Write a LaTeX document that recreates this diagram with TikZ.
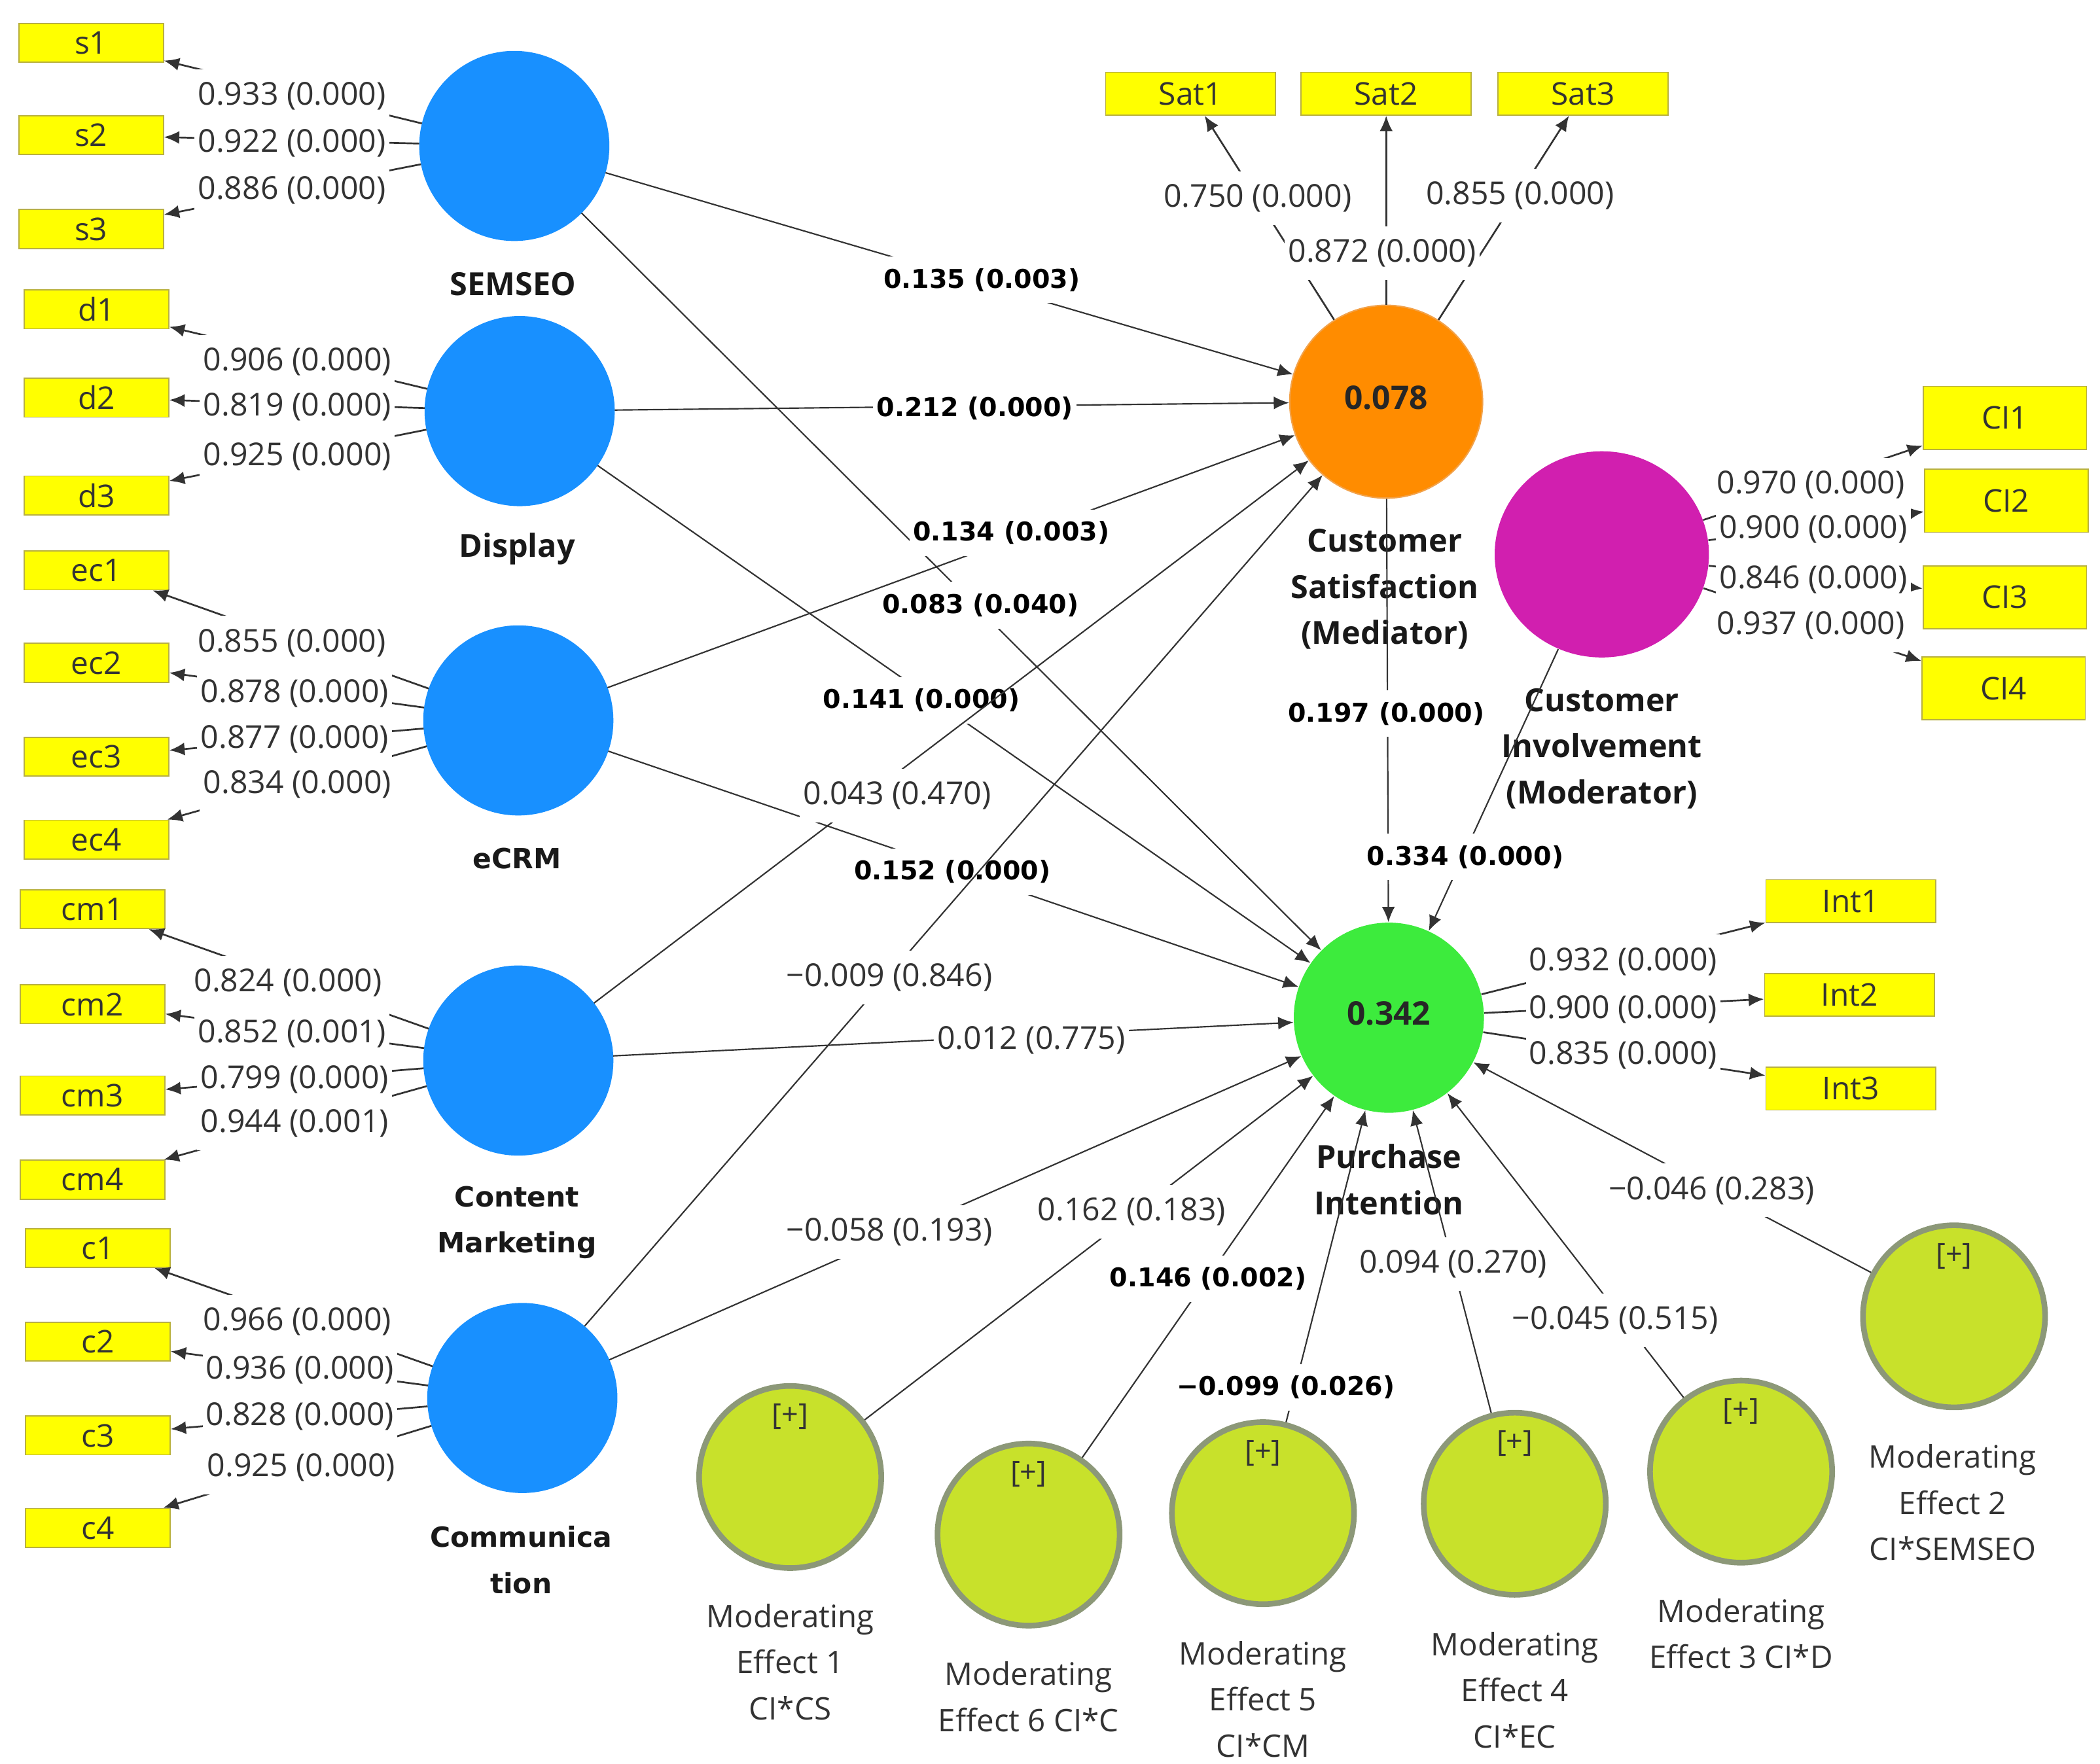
\documentclass[tikz,border=0pt]{standalone}
\usepackage{fontspec}
\setmainfont{Open Sans}
\newfontfamily\dvs{DejaVu Sans}
\usetikzlibrary{arrows.meta,shapes.geometric}
\definecolor{latblue}{HTML}{1890FF}
\definecolor{csor}{HTML}{FF8C00}
\definecolor{csline}{HTML}{F2A24A}
\definecolor{cimag}{HTML}{D11FAF}
\definecolor{pigreen}{HTML}{3DEB3D}
\definecolor{modfill}{HTML}{C8E12B}
\definecolor{modline}{HTML}{8C9878}
\definecolor{boxfill}{HTML}{FFFF00}
\definecolor{boxline}{HTML}{B8B040}
\definecolor{txt}{HTML}{333333}
\definecolor{linec}{HTML}{333333}
\begin{document}
\begin{tikzpicture}[x=0.02cm,y=-0.02cm,
 ind/.style={rectangle,draw=boxline,fill=boxfill,line width=0.5pt,inner sep=0pt,text=txt,font=\fontsize{13.3}{16}\selectfont},
 indL/.style={ind,minimum width=2.16cm,minimum height=0.58cm},
 indS/.style={ind,minimum width=2.54cm,minimum height=0.64cm},
 indC/.style={ind,minimum width=2.44cm,minimum height=0.94cm},
 lat/.style={circle,fill=latblue,minimum size=2.84cm,inner sep=0pt,outer sep=0pt},
 modc/.style={circle,fill=modfill,draw=modline,line width=2.4pt,minimum size=2.72cm,inner sep=0pt},
 ldarr/.style={draw=linec,line width=0.75pt,-{Latex[length=6.5pt,width=5.5pt]}},
 sarr/.style={draw=linec,line width=0.6pt,-{Latex[length=6.5pt,width=5.5pt]}},
 ld/.style={fill=white,inner xsep=1.5pt,inner ysep=5.5pt,text=txt,font=\fontsize{13.4}{16}\selectfont},
 pb/.style={fill=white,inner xsep=1.5pt,inner ysep=5pt,text=black,font=\dvs\bfseries\fontsize{11}{13}\selectfont},
 pr/.style={ld},
 nmA/.style={align=center,text=black!90,font=\bfseries\fontsize{13.5}{19.6}\selectfont},
 nmB/.style={align=center,text=black!90,font=\dvs\bfseries\fontsize{11.8}{19.6}\selectfont},
 mn/.style={align=center,text=txt,font=\fontsize{13.2}{19.6}\selectfont},
 plus/.style={text=txt,font=\fontsize{12.5}{14}\selectfont},
 rsq/.style={text=black!85,font=\bfseries\fontsize{13.8}{16}\selectfont}]
\fill[white] (0,0) rectangle (1568,1317);
\useasboundingbox (0,0) rectangle (1568,1317);

% latent variables
\node[lat] (SEM) at (384,109) {};
\node[lat] (DIS) at (388,307) {};
\node[lat] (ECR) at (387,538) {};
\node[lat] (CMK) at (387,792) {};
\node[lat] (COM) at (390,1044) {};
\node[circle,fill=csor,draw=csline,line width=0.6pt,minimum size=2.88cm,inner sep=0pt] (CS) at (1035,300) {};
\node[rsq] (r2cs) at (1035,297) {0.078};
\node[ellipse,fill=cimag,minimum width=3.2cm,minimum height=3.08cm,inner sep=0pt] (CI) at (1196,414) {};
\node[circle,fill=pigreen,minimum size=2.84cm,inner sep=0pt] (PI) at (1037,760) {};
\node[rsq] (r2pi) at (1037,757) {0.342};

% moderators
\node[modc] (M1) at (590,1103) {};
\node[modc] (M6) at (768,1146) {};
\node[modc] (M5) at (943,1130) {};
\node[modc] (M4) at (1131,1123) {};
\node[modc] (M3) at (1300,1099) {};
\node[modc] (M2) at (1459,983) {};
\node[plus] (p1) at (590,1058) {[+]};
\node[plus] (p6) at (768,1101) {[+]};
\node[plus] (p5) at (943,1085) {[+]};
\node[plus] (p4) at (1131,1078) {[+]};
\node[plus] (p3) at (1300,1054) {[+]};
\node[plus] (p2) at (1459,938) {[+]};

% indicators
\node[indL] (s1) at (68,32) {s1};
\node[indL] (s2) at (68,101) {s2};
\node[indL] (s3) at (68,171) {s3};
\node[indL] (d1) at (72,231) {d1};
\node[indL] (d2) at (72,297) {d2};
\node[indL] (d3) at (72,370) {d3};
\node[indL] (ec1) at (72,426) {ec1};
\node[indL] (ec2) at (72,495) {ec2};
\node[indL] (ec3) at (72,565) {ec3};
\node[indL] (ec4) at (72,627) {ec4};
\node[indL] (cm1) at (69,679) {cm1};
\node[indL] (cm2) at (69,750) {cm2};
\node[indL] (cm3) at (69,818) {cm3};
\node[indL] (cm4) at (69,881) {cm4};
\node[indL] (c1) at (73,932) {c1};
\node[indL] (c2) at (73,1002) {c2};
\node[indL] (c3) at (73,1072) {c3};
\node[indL] (c4) at (73,1141) {c4};
\node[indS] (sat1) at (889,70) {Sat1};
\node[indS] (sat2) at (1035,70) {Sat2};
\node[indS] (sat3) at (1182,70) {Sat3};
\node[indC] (ci1) at (1497,312) {CI1};
\node[indC] (ci2) at (1498,374) {CI2};
\node[indC] (ci3) at (1497,446) {CI3};
\node[indC] (ci4) at (1496,514) {CI4};
\node[indS] (int1) at (1382,673) {Int1};
\node[indS] (int2) at (1381,743) {Int2};
\node[indS] (int3) at (1382,813) {Int3};

% construct names
\node[nmA] (nSEM) at (383,212) {SEMSEO};
\node[nmA] (nDIS) at (386,410) {Display};
\node[nmB] (nECR) at (386,641) {eCRM};
\node[nmB] (nCMK) at (386,913) {Content\\Marketing};
\node[nmB] (nCOM) at (389,1165) {Communica\\tion};
\node[nmA] (nCS) at (1034,440) {Customer\\Satisfaction\\(Mediator)};
\node[nmA] (nCI) at (1196,559) {Customer\\Involvement\\(Moderator)};
\node[nmA] (nPI) at (1037,881) {Purchase\\Intention};
\node[mn] (nM1) at (590,1241) {Moderating\\Effect 1\\CI*CS};
\node[mn] (nM6) at (768,1267) {Moderating\\Effect 6 CI*C};
\node[mn] (nM5) at (943,1269) {Moderating\\Effect 5\\CI*CM};
\node[mn] (nM4) at (1131,1262) {Moderating\\Effect 4\\CI*EC};
\node[mn] (nM3) at (1300,1220) {Moderating\\Effect 3 CI*D};
\node[mn] (nM2) at (1458,1122) {Moderating\\Effect 2\\CI*SEMSEO};

% outer loadings: lines
\foreach \a/\b in {SEM/s1,SEM/s2,SEM/s3,DIS/d1,DIS/d2,DIS/d3,ECR/ec1,ECR/ec2,ECR/ec3,ECR/ec4,CMK/cm1,CMK/cm2,CMK/cm3,CMK/cm4,COM/c1,COM/c2,COM/c3,COM/c4,CS/sat1,CS/sat2,CS/sat3,CI/ci1,CI/ci2,CI/ci3,CI/ci4,PI/int1,PI/int2,PI/int3}
  \draw[ldarr] (\a) -- (\b);
% outer loadings: labels
\node[ld] (ls1) at (218,72) {0.933 (0.000)};
\node[ld] (ls2) at (218,107) {0.922 (0.000)};
\node[ld] (ls3) at (218,142) {0.886 (0.000)};
\node[ld] (ld1) at (222,270) {0.906 (0.000)};
\node[ld] (ld2) at (222,304) {0.819 (0.000)};
\node[ld] (ld3) at (222,341) {0.925 (0.000)};
\node[ld] (le1) at (218,480) {0.855 (0.000)};
\node[ld] (le2) at (220,518) {0.878 (0.000)};
\node[ld] (le3) at (220,552) {0.877 (0.000)};
\node[ld] (le4) at (222,586) {0.834 (0.000)};
\node[ld] (lm1) at (215,734) {0.824 (0.000)};
\node[ld] (lm2) at (218,772) {0.852 (0.001)};
\node[ld] (lm3) at (220,806) {0.799 (0.000)};
\node[ld] (lm4) at (220,839) {0.944 (0.001)};
\node[ld] (lc1) at (222,987) {0.966 (0.000)};
\node[ld] (lc2) at (224,1023) {0.936 (0.000)};
\node[ld] (lc3) at (224,1058) {0.828 (0.000)};
\node[ld] (lc4) at (225,1096) {0.925 (0.000)};
\node[ld] (lsa1) at (939,148) {0.750 (0.000)};
\node[ld] (lsa3) at (1135,146) {0.855 (0.000)};
\node[ld] (lsa2) at (1032,189) {0.872 (0.000)};
\node[ld] (lci1) at (1352,362) {0.970 (0.000)};
\node[ld] (lci2) at (1354,395) {0.900 (0.000)};
\node[ld] (lci3) at (1354,433) {0.846 (0.000)};
\node[ld] (lci4) at (1352,467) {0.937 (0.000)};
\node[ld] (lin1) at (1212,718) {0.932 (0.000)};
\node[ld] (lin2) at (1212,754) {0.900 (0.000)};
\node[ld] (lin3) at (1212,788) {0.835 (0.000)};

% structural paths (drawing order matters for overlaps)
\draw[sarr] (SEM) -- (CS);  \node[pb] (q1) at (733,209) {0.135 (0.003)};
\draw[sarr] (DIS) -- (CS);  \node[pb] (q2) at (728,305) {0.212 (0.000)};
\draw[sarr] (SEM) -- (PI);  \node[pb] (q3) at (732,452) {0.083 (0.040)};
\draw[sarr] (ECR) -- (CS);  \node[pb] (q4) at (755,398) {0.134 (0.003)};
\draw[sarr] (DIS) -- (PI);  \node[pb] (q5) at (688,523) {0.141 (0.000)};
\draw[sarr] (ECR) -- (PI);  \node[pb] (q6) at (711,651) {0.152 (0.000)};
\draw[sarr] (CMK) -- (CS);  \node[pr] (q7) at (670,594) {0.043 (0.470)};
\draw[sarr] (COM) -- (CS);  \node[pr] (q8) at (664,730) {−0.009 (0.846)};
\draw[sarr] (CMK) -- (PI);  \node[pr] (q9) at (770,777) {0.012 (0.775)};
\draw[sarr] (COM) -- (PI);  \node[pr] (q10) at (664,920) {−0.058 (0.193)};
\draw[sarr] (M1) -- (PI);   \node[pr] (q11) at (845,905) {0.162 (0.183)};
\draw[sarr] (M6) -- (PI);   \node[pb] (q12) at (902,955) {0.146 (0.002)};
\draw[sarr] (M5) -- (PI);   \node[pb] (q13) at (960,1036) {−0.099 (0.026)};
\draw[sarr] (M4) -- (PI);   \node[pr] (q14) at (1085,944) {0.094 (0.270)};
\draw[sarr] (M3) -- (PI);   \node[pr] (q15) at (1206,986) {−0.045 (0.515)};
\draw[sarr] (M2) -- (PI);   \node[pr] (q16) at (1278,889) {−0.046 (0.283)};
\draw[sarr] (CS) -- (PI);   \node[pb] (q17) at (1035,533) {0.197 (0.000)};
\draw[sarr] (CI) -- (PI);   \node[pb] (q18) at (1094,640) {0.334 (0.000)};
\end{tikzpicture}
\end{document}
